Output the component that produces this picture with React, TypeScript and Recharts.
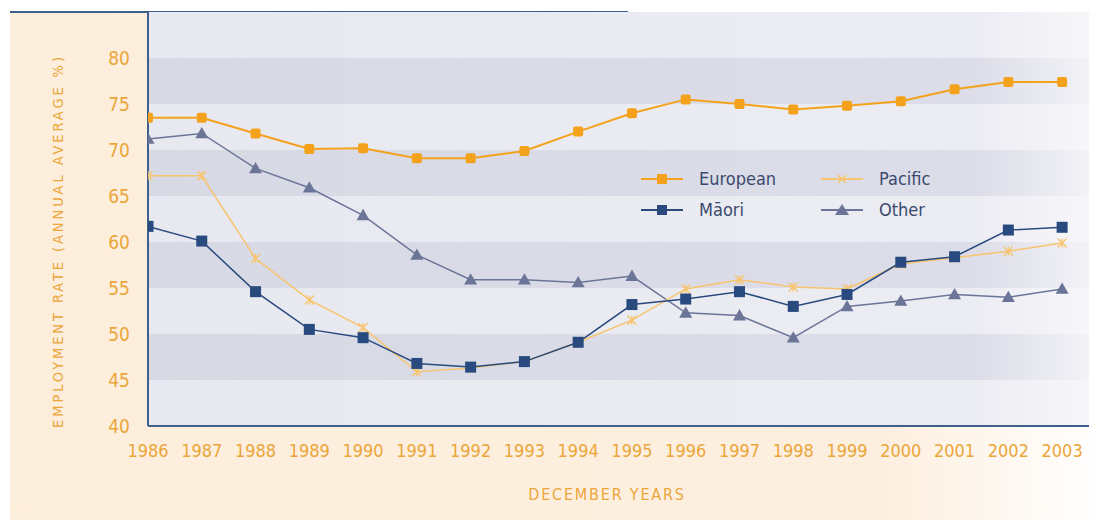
import React from "react";
import {
  LineChart,
  Line,
  XAxis,
  YAxis,
  ReferenceArea,
  Label,
} from "recharts";

const years = [
  1986, 1987, 1988, 1989, 1990, 1991, 1992, 1993, 1994, 1995, 1996, 1997,
  1998, 1999, 2000, 2001, 2002, 2003,
];
const european = [
  73.5, 73.5, 71.8, 70.1, 70.2, 69.1, 69.1, 69.9, 72.0, 74.0, 75.5, 75.0,
  74.4, 74.8, 75.3, 76.6, 77.4, 77.4,
];
const maori = [
  61.7, 60.1, 54.6, 50.5, 49.6, 46.8, 46.4, 47.0, 49.1, 53.2, 53.8, 54.6,
  53.0, 54.3, 57.8, 58.4, 61.3, 61.6,
];
const pacific = [
  67.2, 67.2, 58.2, 53.7, 50.7, 45.9, 46.3, 47.0, 49.1, 51.5, 54.9, 55.9,
  55.1, 54.9, 57.6, 58.3, 59.0, 59.9,
];
const other = [
  71.2, 71.8, 68.0, 65.9, 62.9, 58.6, 55.9, 55.9, 55.6, 56.3, 52.3, 52.0,
  49.6, 53.0, 53.6, 54.3, 54.0, 54.9,
];
const yTicks = [40, 45, 50, 55, 60, 65, 70, 75, 80];
const darkBands = [
  [45, 50],
  [55, 60],
  [65, 70],
  [75, 80],
];

const data = years.map((year, i) => ({
  year,
  European: european[i],
  Maori: maori[i],
  Pacific: pacific[i],
  Other: other[i],
}));

const C_EURO = "#f4a21c";
const C_MAORI = "#284a7e";
const C_PAC = "#f8c46e";
const C_OTHER = "#6b7598";
const C_AXIS_TEXT = "#eba63a";
const C_NAVY = "#3f5f8c";
const FONT = "'DejaVu Sans Condensed', 'DejaVu Sans', sans-serif";

const SquareDot = (color: string, s: number) => (props: any) => {
  const { cx, cy, index } = props;
  if (cx == null || cy == null) return <g key={index} />;
  return (
    <rect
      key={index}
      x={cx - s / 2}
      y={cy - s / 2}
      width={s}
      height={s}
      rx={color === C_EURO ? 2 : 0}
      fill={color}
    />
  );
};

const CrossDot = (props: any) => {
  const { cx, cy, index } = props;
  if (cx == null || cy == null) return <g key={index} />;
  const r = 4.5;
  return (
    <g key={index} stroke={C_PAC} strokeWidth={1.4}>
      <line x1={cx - r} y1={cy - r} x2={cx + r} y2={cy + r} />
      <line x1={cx - r} y1={cy + r} x2={cx + r} y2={cy - r} />
      <line x1={cx} y1={cy - r} x2={cx} y2={cy + r} />
    </g>
  );
};

const TriDot = (props: any) => {
  const { cx, cy, index } = props;
  if (cx == null || cy == null) return <g key={index} />;
  const s = 6.5;
  return (
    <polygon
      key={index}
      points={`${cx},${cy - s} ${cx - s},${cy + s * 0.75} ${cx + s},${cy + s * 0.75}`}
      fill={C_OTHER}
    />
  );
};

const legendItems = [
  { name: "European", color: C_EURO, kind: "sq" },
  { name: "Pacific", color: C_PAC, kind: "x" },
  { name: "Māori", color: C_MAORI, kind: "sq" },
  { name: "Other", color: C_OTHER, kind: "tri" },
];

function LegendIcon({ color, kind }: { color: string; kind: string }) {
  return (
    <svg width={42} height={14} style={{ marginRight: 16 }}>
      <line x1={0} y1={7} x2={42} y2={7} stroke={color} strokeWidth={2} />
      {kind === "sq" && <rect x={16} y={2} width={10} height={10} fill={color} />}
      {kind === "x" && (
        <g stroke={color} strokeWidth={1.4}>
          <line x1={17} y1={3} x2={25} y2={11} />
          <line x1={17} y1={11} x2={25} y2={3} />
        </g>
      )}
      {kind === "tri" && <polygon points="21,1 14,12 28,12" fill={color} />}
    </svg>
  );
}

function ChartLegend() {
  return (
    <div
      style={{
        position: "absolute",
        left: 641,
        top: 168,
        display: "grid",
        gridTemplateColumns: "180px 140px",
        rowGap: 9,
        fontFamily: FONT,
        fontSize: 18,
        lineHeight: "22px",
        color: "#3a4a6e",
      }}
    >
      {legendItems.map((it) => (
        <div key={it.name} style={{ display: "flex", alignItems: "center" }}>
          <LegendIcon color={it.color} kind={it.kind} />
          <span>{it.name}</span>
        </div>
      ))}
    </div>
  );
}

export default function App() {
  return (
    <div
      style={{
        position: "fixed",
        left: 0,
        top: 0,
        width: 1102,
        height: 520,
        background: "#ffffff",
        overflow: "hidden",
      }}
    >
      <div
        style={{
          position: "absolute",
          left: 10,
          top: 12,
          width: 1092,
          height: 508,
          background:
            "linear-gradient(to right, #fdeedc 0%, #fdefdf 80%, #ffffff 100%)",
        }}
      />
      <div
        style={{
          position: "absolute",
          left: 10,
          top: 11,
          width: 618,
          height: 2,
          background: C_NAVY,
        }}
      />
      <div style={{ position: "absolute", left: 0, top: 0 }}>
        <LineChart
          width={1102}
          height={520}
          data={data}
          margin={{ top: 12, right: 13, bottom: 64, left: 88 }}
        >
          <defs>
            <linearGradient id="bgLight" x1="0" y1="0" x2="1" y2="0">
              <stop offset="0%" stopColor="#e8e8f0" />
              <stop offset="88%" stopColor="#ececf3" />
              <stop offset="100%" stopColor="#f7f7fa" />
            </linearGradient>
            <linearGradient id="bgDark" x1="0" y1="0" x2="1" y2="0">
              <stop offset="0%" stopColor="#d7d9e5" />
              <stop offset="88%" stopColor="#dcdde8" />
              <stop offset="100%" stopColor="#f2f2f7" />
            </linearGradient>
          </defs>
          <ReferenceArea
            y1={40}
            y2={85}
            x1={1986}
            x2={2003.5}
            fill="url(#bgLight)"
            fillOpacity={1}
            strokeWidth={0}
          />
          {darkBands.map(([a, b]) => (
            <ReferenceArea
              key={a}
              y1={a}
              y2={b}
              x1={1986}
              x2={2003.5}
              fill="url(#bgDark)"
              fillOpacity={1}
              strokeWidth={0}
            />
          ))}
          <XAxis
            dataKey="year"
            type="number"
            domain={[1986, 2003.5]}
            ticks={years}
            interval={0}
            allowDataOverflow
            height={30}
            tickLine={false}
            tickSize={0}
            tickMargin={18}
            axisLine={{ stroke: C_NAVY, strokeWidth: 2 }}
            tick={{ fill: C_AXIS_TEXT, fontSize: 18, fontFamily: FONT }}
          >
            <Label
              content={() => (
                <text
                  x={607}
                  y={500}
                  textAnchor="middle"
                  fill={C_AXIS_TEXT}
                  fontSize={16}
                  fontFamily={FONT}
                  letterSpacing={1.8}
                >
                  DECEMBER YEARS
                </text>
              )}
            />
          </XAxis>
          <YAxis
            width={60}
            type="number"
            domain={[40, 85]}
            ticks={yTicks}
            interval={0}
            allowDataOverflow
            tickLine={false}
            tickSize={0}
            tickMargin={18}
            axisLine={{ stroke: C_NAVY, strokeWidth: 2 }}
            tick={{ fill: C_AXIS_TEXT, fontSize: 19, fontFamily: FONT }}
          >
            <Label
              content={() => (
                <text
                  x={0}
                  y={0}
                  transform="translate(63,241) rotate(-90)"
                  textAnchor="middle"
                  fill={C_AXIS_TEXT}
                  fontSize={14.5}
                  fontFamily={FONT}
                  letterSpacing={2.9}
                >
                  EMPLOYMENT RATE (ANNUAL AVERAGE %)
                </text>
              )}
            />
          </YAxis>
          <Line
            dataKey="Other"
            stroke={C_OTHER}
            strokeWidth={1.5}
            dot={TriDot}
            isAnimationActive={false}
          />
          <Line
            dataKey="Pacific"
            stroke={C_PAC}
            strokeWidth={1.5}
            dot={CrossDot}
            isAnimationActive={false}
          />
          <Line
            dataKey="Maori"
            stroke={C_MAORI}
            strokeWidth={1.5}
            dot={SquareDot(C_MAORI, 11)}
            isAnimationActive={false}
          />
          <Line
            dataKey="European"
            stroke={C_EURO}
            strokeWidth={2}
            dot={SquareDot(C_EURO, 10)}
            isAnimationActive={false}
          />
        </LineChart>
      </div>
      <ChartLegend />
    </div>
  );
}
